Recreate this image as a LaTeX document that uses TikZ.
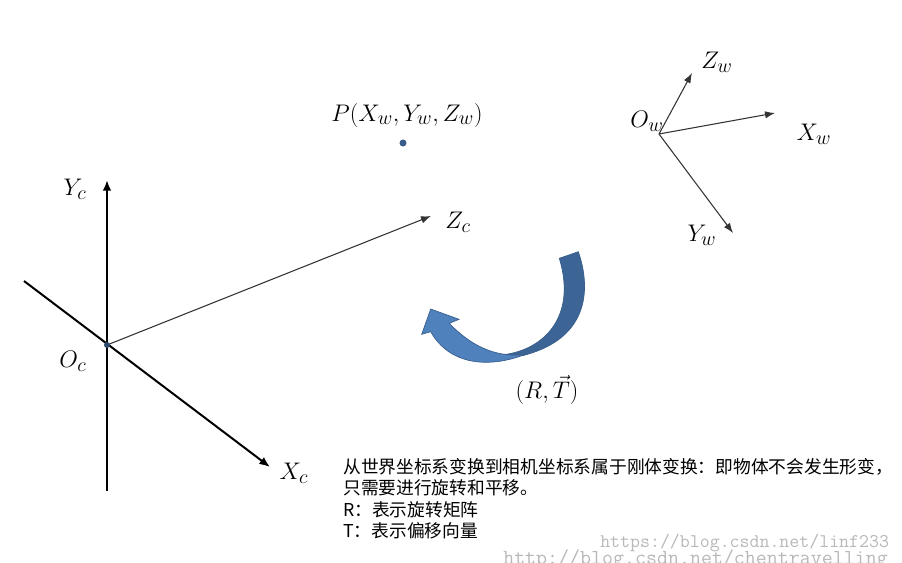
\documentclass[tikz,border=0pt]{standalone}
\usepackage{fix-cm}
\usepackage{amsmath}
\usepackage{fontspec}
\usepackage{pgf,tikz}
\usetikzlibrary{arrows.meta,calc}
\newfontfamily\cjkfont{Noto Sans CJK SC}
\DeclareMathSizes{18}{18}{15}{12}
\definecolor{bandlight}{RGB}{79,129,189}
\definecolor{banddark}{RGB}{60,101,150}
\definecolor{bandedge}{RGB}{56,93,138}
\tikzset{
  axisthick/.style={-{Latex[length=8pt,width=6.5pt]},line width=1.5pt,black},
  axisthin/.style={-{Latex[length=7.5pt,width=5.5pt]},line width=0.8pt,black!80},
  mathlabel/.style={inner sep=0pt,font=\fontsize{18}{22}\selectfont},
  waterlabel/.style={inner sep=0pt,anchor=base west,black!28}
}
\begin{document}
\begin{tikzpicture}[x=0.75pt,y=-0.75pt]
\useasboundingbox (0,0) rectangle (902,562);
\clip (0,0) rectangle (902,562);
% camera axes
\coordinate (Oc) at (107,345);
\coordinate (xstart) at (24,281);
\coordinate (ystart) at (107,491);
\node[mathlabel] (Yc) at (75,189) {$Y_c$};
\node[mathlabel] (Xc) at (294,473) {$X_c$};
\node[mathlabel] (Zc) at (458,222) {$Z_c$};
\node[mathlabel] (Oclabel) at (73,361) {$O_c$};
\coordinate (yend) at (107,180);
\coordinate (xend) at (270,467);
\coordinate (zend) at (431,216);
\draw[axisthick] (ystart) -- (yend);
\draw[axisthick] (xstart) -- (xend);
\draw[axisthin] (Oc) -- (zend);
\fill[bandedge!80!black] (Oc) circle (3);
% world axes
\coordinate (Ow) at (659,134);
\coordinate (zwend) at (692,73);
\coordinate (xwend) at (775,113);
\coordinate (ywend) at (733,233);
\draw[axisthin] (Ow) -- (zwend);
\draw[axisthin] (Ow) -- (xwend);
\draw[axisthin] (Ow) -- (ywend);
\node[mathlabel] (Owlabel) at (647,121) {$O_w$};
\node[mathlabel] (Zw) at (717,62) {$Z_w$};
\node[mathlabel] (Xw) at (814,134) {$X_w$};
\node[mathlabel] (Yw) at (702,235) {$Y_w$};
% point
\node[mathlabel] (P) at (407,115) {$P(X_w,Y_w,Z_w)$};
\fill[bandedge] (403,143) circle (3.5);
% curved arrow
\filldraw[banddark,draw=bandedge,line width=0.5pt] (559.3,258.3) -- (578.3,251.7)
  .. controls (590,285) and (592,338) .. (523,355.5)
  -- (500,355)
  .. controls (540,352) and (578,320) .. cycle;
\filldraw[bandlight,draw=bandedge,line width=0.5pt] (525,354.5)
  .. controls (490,368) and (450,366) .. (430.7,331.7)
  -- (421.7,334.3) -- (430.7,309) -- (459,319.3) -- (449.3,323.3)
  .. controls (470,345) and (495,358) .. cycle;
\node[mathlabel] (RT) at (547,390) {$(R,\vec{T})$};
% text
\node[inner sep=0pt,anchor=north west,align=left,font=\cjkfont\fontsize{13.3}{16}\selectfont] (note) at (343,458) {从世界坐标系变换到相机坐标系属于刚体变换：即物体不会发生形变，\\只需要进行旋转和平移。\\R：表示旋转矩阵\\T：表示偏移向量};
\node[waterlabel,font=\ttfamily\fontsize{14.5}{16}\selectfont] (mark1) at (600,547) {https://blog.csdn.net/linf233};
\node[waterlabel,font=\ttfamily\fontsize{16}{16}\selectfont] (mark2) at (503,564) {http://blog.csdn.net/chentravelling};
\end{tikzpicture}
\end{document}
